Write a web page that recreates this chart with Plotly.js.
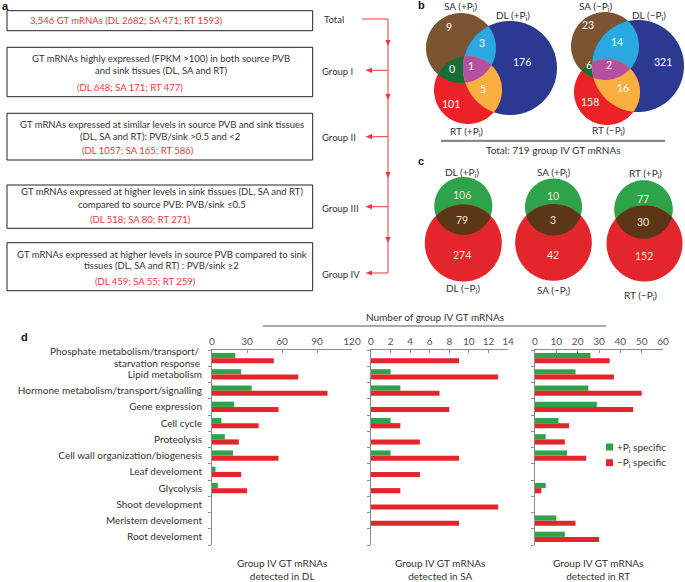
<!DOCTYPE html>
<html><head><meta charset="utf-8">
<script src="https://cdn.plot.ly/plotly-3.0.1.min.js"></script>
<style>html,body{margin:0;padding:0;background:#fff}</style>
</head><body><div id="chart" style="width:685px;height:582px"></div>
<script>
// ---------- data ----------
const categories = ['Phosphate metabolism/transport/<br>starvation response', 'Lipid metabolism',
  'Hormone metabolism/transport/signalling', 'Gene expression', 'Cell cycle', 'Proteolysis',
  'Cell wall organization/biogenesis', 'Leaf develoment', 'Glycolysis', 'Shoot development',
  'Meristem develoment', 'Root develoment'];
const dlPlus  = [20, 25, 34, 19, 8, 11, 18, 3, 5, 0, 0, 0];
const dlMinus = [53, 74, 99, 57, 40, 23, 57, 25, 30, 0, 0, 0];
const saPlus  = [0, 2, 3, 0, 2, 0, 2, 0, 0, 0, 0, 0];
const saMinus = [9, 13, 7, 8, 3, 5, 9, 5, 3, 13, 9, 0];
const rtPlus  = [26, 19, 25, 29, 11, 5, 15, 0, 5, 0, 10, 14];
const rtMinus = [35, 37, 50, 46, 16, 14, 24, 0, 3, 0, 19, 30];
const dlTicks = [0, 30, 60, 90, 120];
const saTicks = [0, 2, 4, 6, 8, 10, 12, 14];
const rtTicks = [0, 10, 20, 30, 40, 50, 60];
const seriesNames = ['+P<sub>i</sub> specific', '−P<sub>i</sub> specific'];
// Venn b: [SA only, SA&DL, DL only, SA&RT, all three, DL&RT, RT only]
const vennPlus  = [9, 3, 176, 0, 1, 5, 101];
const vennMinus = [23, 14, 321, 6, 2, 16, 158];
const vennTotal = 719;
// Venn c: [+Pi only, both, -Pi only]
const vennDL = [106, 79, 274];
const vennSA = [10, 3, 42];
const vennRT = [77, 30, 152];
// panel a
const totalLine = '3,546 GT mRNAs (DL 2682; SA 471; RT 1593)';
const groupCounts = ['(DL 648; SA 171; RT 477)', '(DL 1057; SA 165; RT 586)', '(DL 518; SA 80; RT 271)', '(DL 459; SA 55; RT 259)'];
const groupNames = ['Total', 'Group I', 'Group II', 'Group III', 'Group IV'];

// ---------- helpers ----------
const W = 685, H = 582;
const FONT = 'Lato, "Open Sans", sans-serif';
const RED_T = '#e8383d', INK = '#333333';
const GREEN = '#2ea34a', RED = '#e3262c';
function X(p) { return p / W; }
function Y(p) { return 1 - p / H; }
const shapes = [], annotations = [];
function txt(x, y, text, size, color, anchor, extra) {
  annotations.push(Object.assign({xref: 'paper', yref: 'paper', x: X(x), y: Y(y), text: text, showarrow: false,
    xanchor: anchor || 'center', yanchor: 'middle', font: {family: FONT, size: size || 9.5, color: color || INK}}, extra || {}));
}
function rect(x0, y0, x1, y1, fill) {
  shapes.push({type: 'rect', xref: 'paper', yref: 'paper', x0: X(x0), x1: X(x1), y0: Y(y0), y1: Y(y1),
    line: fill ? {width: 0} : {color: '#222', width: 1}, fillcolor: fill || 'rgba(0,0,0,0)'});
}
function line(x0, y0, x1, y1, color, w) {
  shapes.push({type: 'line', xref: 'paper', yref: 'paper', x0: X(x0), x1: X(x1), y0: Y(y0), y1: Y(y1), line: {color: color, width: w || 1}});
}
function pathOf(pts) { return 'M' + pts.map(p => X(p[0]).toFixed(5) + ',' + Y(p[1]).toFixed(5)).join('L') + 'Z'; }
function poly(pts, color) {
  if (pts.length < 3) return;
  shapes.push({type: 'path', xref: 'paper', yref: 'paper', path: pathOf(pts), fillcolor: color, line: {width: 0}});
}
function circ(c) { const pts = []; const n = 120; for (let i = 0; i < n; i++) { const t = 2 * Math.PI * i / n; pts.push([c[0] + c[2] * Math.cos(t), c[1] + c[2] * Math.sin(t)]); } return pts; }
function clip(subject, clipPoly) {
  let out = subject;
  for (let i = 0; i < clipPoly.length; i++) {
    const A = clipPoly[i], B = clipPoly[(i + 1) % clipPoly.length];
    const inside = p => (B[0] - A[0]) * (p[1] - A[1]) - (B[1] - A[1]) * (p[0] - A[0]) >= 0;
    const inter = (P, Q) => {
      const a1 = B[1] - A[1], b1 = A[0] - B[0], c1 = a1 * A[0] + b1 * A[1];
      const a2 = Q[1] - P[1], b2 = P[0] - Q[0], c2 = a2 * P[0] + b2 * P[1];
      const d = a1 * b2 - a2 * b1;
      return [(b2 * c1 - b1 * c2) / d, (a1 * c2 - a2 * c1) / d];
    };
    const inp = out; out = [];
    for (let j = 0; j < inp.length; j++) {
      const P = inp[j], Q = inp[(j + 1) % inp.length];
      const pin = inside(P), qin = inside(Q);
      if (qin) { if (!pin) out.push(inter(P, Q)); out.push(Q); }
      else if (pin) out.push(inter(P, Q));
    }
    if (!out.length) break;
  }
  return out;
}
const BOLD = {family: 'Liberation Sans, Arial', size: 11, color: '#111'};

// ---------- panel a ----------
txt(5, 6, '<b>a</b>', 11, '#111', 'center', {font: BOLD});
rect(7, 10.7, 312.7, 30.7);
txt(28, 20.5, totalLine, 9.5, RED_T, 'left');
rect(7, 47.3, 312.7, 96.7);
txt(160.5, 58.3, 'GT mRNAs highly expressed (FPKM >100) in both source PVB');
txt(161.7, 70.7, 'and sink tissues (DL, SA and RT)');
txt(130, 87.3, groupCounts[0], 9.5, RED_T);
rect(7, 113.3, 312.7, 160);
txt(161.7, 124.3, 'GT mRNAs expressed at similar levels in source PVB and sink tissues');
txt(160, 136.7, '(DL, SA and RT): PVB/sink >0.5 and <2');
txt(138, 151, groupCounts[1], 9.5, RED_T);
rect(7, 185, 312.7, 228.3);
txt(161.7, 191.7, 'GT mRNAs expressed at higher levels in sink tissues (DL, SA and RT)');
txt(162, 204, 'compared to source PVB: PVB/sink ≤0.5');
txt(140.8, 219, groupCounts[2], 9.5, RED_T);
rect(7, 242.7, 312.7, 290.7);
txt(161.5, 254, 'GT mRNAs expressed at higher levels in source PVB compared to sink');
txt(161.7, 266, 'tissues (DL, SA and RT) : PVB/sink ≥2');
txt(145.3, 281, groupCounts[3], 9.5, RED_T);
const labelY = [20, 71.5, 137.7, 208.3, 274];
groupNames.forEach((g, i) => txt(i === 0 ? 322 : 320, labelY[i], g, 9.5, INK, 'left'));
// red flow
line(362, 19, 388, 19, RED_T, 1);
line(388, 19, 388, 273, RED_T, 1);
[70.3, 136.7, 206.7, 273].forEach(y => {
  line(388, y, 370, y, RED_T, 1);
  poly([[365.5, y], [372, y - 2.6], [372, y + 2.6]], RED_T);
});
[43, 97, 175, 240].forEach(y => poly([[388, y + 3], [385.4, y - 3], [390.6, y - 3]], RED_T));

// ---------- panel b ----------
txt(421, 5, '<b>b</b>', 11, '#111', 'center', {font: BOLD});
function venn3(sa, dl, rt, vals, pos, labels, sub) {
  const S = circ(sa), D = circ(dl), R = circ(rt);
  poly(S, '#7b5432'); poly(D, '#2b3990'); poly(R, '#ec2227');
  poly(clip(S, D), '#2aa9e0'); poly(clip(S, R), '#176e37'); poly(clip(D, R), '#f9ae42');
  poly(clip(clip(S, D), R), '#b5509f');
  vals.forEach((v, i) => txt(pos[i][0], pos[i][1], String(v), 10.5, '#ffffff'));
  labels.forEach(l => txt(l[0], l[1], l[2] + ' (' + sub + 'P<sub>i</sub>)', 10, INK));
}
venn3([461, 48, 35], [510, 68, 47], [468, 90, 34], vennPlus,
  [[449.3, 26.7], [481.7, 43.3], [521.7, 62.3], [451.7, 69], [471, 65.7], [483.3, 89], [450.7, 104]],
  [[460.7, 6.5, 'SA'], [513.3, 15.5, 'DL'], [466.7, 132, 'RT']], '+');
venn3([605, 46, 34], [638, 66, 46], [607, 92, 33], vennMinus,
  [[588.3, 25], [617.3, 41.7], [663.3, 62.3], [589.3, 65], [609.3, 65], [622.7, 88.3], [590, 102.3]],
  [[595, 6.5, 'SA'], [649.3, 15, 'DL'], [608.3, 130.5, 'RT']], '−');
line(441, 140.8, 665, 140.8, '#8a8a8a', 2.2);
txt(553.3, 149.5, 'Total: ' + vennTotal + ' group IV GT mRNAs', 10, INK);

// ---------- panel c ----------
txt(421, 161, '<b>c</b>', 11, '#111', 'center', {font: BOLD});
function venn2(g, r, vals, name, lx) {
  const G = circ(g), R = circ(r);
  poly(G, GREEN); poly(R, RED); poly(clip(G, R), '#5b3718');
  txt(g[0] - 1, g[1] - 11, String(vals[0]), 10.5, '#f6e8de');
  txt(g[0] - 1, (g[1] + g[2] + r[1] - r[2]) / 2, String(vals[1]), 10.5, '#f6e8de');
  txt(r[0] - 1, r[1] + 12, String(vals[2]), 10.5, '#f6e8de');
  txt(lx[0], lx[1], name + ' (+P<sub>i</sub>)', 10, INK);
  txt(lx[2], lx[3], name + ' (−P<sub>i</sub>)', 10, INK);
}
venn2([463.3, 206, 29], [463.3, 243, 38.5], vennDL, 'DL', [461.7, 172.5, 463.3, 288.5]);
venn2([553.5, 207, 28.5], [553.5, 242.5, 38.3], vennSA, 'SA', [553.3, 172, 553.3, 290]);
venn2([643.5, 209.5, 29.3], [644.5, 243.5, 38], vennRT, 'RT', [645, 173.5, 640, 295]);

// ---------- panel d ----------
txt(25, 337, '<b>d</b>', 11, '#111', 'center', {font: BOLD});
line(263, 326, 606, 326, '#555', 1);
txt(435, 317, 'Number of group IV GT mRNAs', 10, INK);
txt(281.7, 569, 'Group IV GT mRNAs<br>detected in DL', 10, INK);
txt(440, 569, 'Group IV GT mRNAs<br>detected in SA', 10, INK);
txt(598, 569.5, 'Group IV GT mRNAs<br>detected in RT', 10, INK);
// first category label drawn as two tight lines
const firstLines = categories[0].split('<br>');
txt(202, 351.3, firstLines[0], 10, INK, 'right');
txt(202, 362.8, firstLines[1], 10, INK, 'right');
// legend
rect(606, 443.5, 613, 450.5, GREEN);
txt(615, 447, seriesNames[0], 10, INK, 'left');
rect(606, 459.2, 613, 466.2, RED);
txt(615, 462.7, seriesNames[1], 10, INK, 'left');

const panels = [[dlPlus, dlMinus, ''], [saPlus, saMinus, '2'], [rtPlus, rtMinus, '3']];
const traces = [];
panels.forEach((p, k) => {
  traces.push({type: 'bar', orientation: 'h', y: categories, x: p[0], xaxis: 'x' + p[2], yaxis: 'y' + p[2],
    name: seriesNames[0], showlegend: false, marker: {color: GREEN}, hoverinfo: 'x'});
  traces.push({type: 'bar', orientation: 'h', y: categories, x: p[1], xaxis: 'x' + p[2], yaxis: 'y' + p[2],
    name: seriesNames[1], showlegend: false, marker: {color: RED}, hoverinfo: 'x'});
});
const xdom = [[212, 352], [371, 508], [535, 663]];
const xr = [[0, 120], [0, 14], [0, 60]];
const xt = [dlTicks, saTicks, rtTicks];
const tickText = categories.map((c, i) => i === 0 ? '' : c);
const layout = {
  width: W, height: H, margin: {l: 0, r: 0, t: 0, b: 0, pad: 0, autoexpand: false},
  paper_bgcolor: '#fff', plot_bgcolor: 'rgba(0,0,0,0)',
  font: {family: FONT, size: 10, color: INK},
  barmode: 'group', bargap: 0.36, bargroupgap: 0,
  showlegend: false,
  shapes: shapes, annotations: annotations
};
['', '2', '3'].forEach((s, k) => {
  layout['xaxis' + s] = {domain: [X(xdom[k][0]), X(xdom[k][1])], range: xr[k], side: 'top', anchor: 'y' + s,
    tickvals: xt[k], showline: true, linecolor: '#8c8c8c', linewidth: 1, ticks: 'inside', ticklen: 3, tickcolor: '#8c8c8c',
    showgrid: false, zeroline: false, tickfont: {size: 10, color: '#555'}, fixedrange: true};
  layout['yaxis' + s] = {domain: [Y(545), Y(350)], type: 'category', categoryorder: 'array', categoryarray: categories,
    autorange: 'reversed', anchor: 'x' + s, showline: true, linecolor: '#8c8c8c', linewidth: 1, ticks: 'outside', tickson: 'boundaries',
    ticklen: 3, tickcolor: '#8c8c8c', showgrid: false, zeroline: false, showticklabels: k === 0, ticklabelstandoff: 7,
    tickmode: 'array', tickvals: categories, ticktext: tickText,
    tickfont: {size: 10, color: INK}, fixedrange: true};
});
Plotly.newPlot('chart', traces, layout, {displayModeBar: false, staticPlot: true});
</script></body></html>
